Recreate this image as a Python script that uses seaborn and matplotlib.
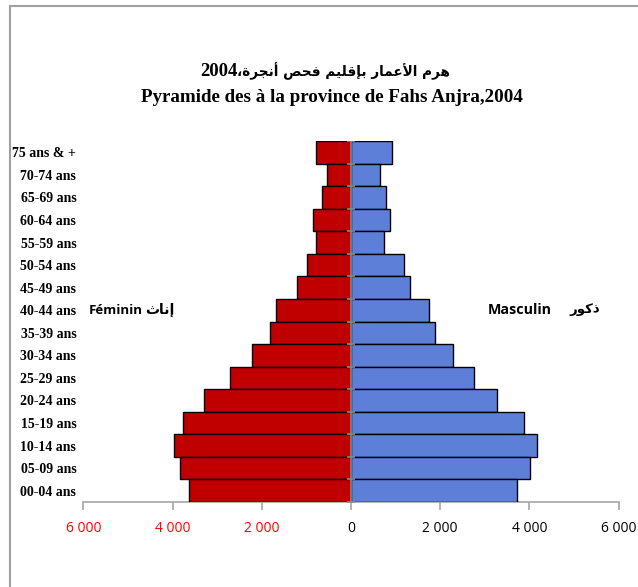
import matplotlib
matplotlib.use("Agg")
import matplotlib.pyplot as plt
import seaborn as sns
import pandas as pd
from matplotlib.lines import Line2D

# ---------------- data ----------------
age_groups = ["75 ans & +", "70-74 ans", "65-69 ans", "60-64 ans", "55-59 ans",
              "50-54 ans", "45-49 ans", "40-44 ans", "35-39 ans", "30-34 ans",
              "25-29 ans", "20-24 ans", "15-19 ans", "10-14 ans", "05-09 ans",
              "00-04 ans"]
female = [783, 535, 655, 850, 783, 978, 1203, 1677, 1806, 2219, 2709, 3302,
          3770, 3966, 3837, 3627]
male = [921, 641, 777, 867, 732, 1192, 1327, 1750, 1878, 2293, 2768, 3265,
        3884, 4170, 4005, 3726]
x_ticks = [-6000, -4000, -2000, 0, 2000, 4000, 6000]
x_tick_labels = ["6 000", "4 000", "2 000", "0", "2 000", "4 000", "6 000"]

# ---------------- minimal Arabic shaping ----------------
FORMS = {  # iso, final, initial, medial
    "ه": (0xFEE9, 0xFEEA, 0xFEEB, 0xFEEC), "م": (0xFEE1, 0xFEE2, 0xFEE3, 0xFEE4),
    "ل": (0xFEDD, 0xFEDE, 0xFEDF, 0xFEE0), "ع": (0xFEC9, 0xFECA, 0xFECB, 0xFECC),
    "ب": (0xFE8F, 0xFE90, 0xFE91, 0xFE92), "ق": (0xFED5, 0xFED6, 0xFED7, 0xFED8),
    "ي": (0xFEF1, 0xFEF2, 0xFEF3, 0xFEF4), "ف": (0xFED1, 0xFED2, 0xFED3, 0xFED4),
    "ح": (0xFEA1, 0xFEA2, 0xFEA3, 0xFEA4), "ص": (0xFEB9, 0xFEBA, 0xFEBB, 0xFEBC),
    "ن": (0xFEE5, 0xFEE6, 0xFEE7, 0xFEE8), "ج": (0xFE9D, 0xFE9E, 0xFE9F, 0xFEA0),
    "ث": (0xFE99, 0xFE9A, 0xFE9B, 0xFE9C), "ك": (0xFED9, 0xFEDA, 0xFEDB, 0xFEDC),
    "ر": (0xFEAD, 0xFEAE), "ا": (0xFE8D, 0xFE8E), "أ": (0xFE83, 0xFE84),
    "إ": (0xFE87, 0xFE88), "ة": (0xFE93, 0xFE94), "ذ": (0xFEAB, 0xFEAC),
    "و": (0xFEED, 0xFEEE),
}
LAM_ALEF = {"ا": (0xFEFB, 0xFEFC), "أ": (0xFEF7, 0xFEF8), "إ": (0xFEF9, 0xFEFA)}


def dual(c):
    return c in FORMS and len(FORMS[c]) == 4


def shape(text):
    chars = list(text)
    units = []
    i = 0
    while i < len(chars):
        c = chars[i]
        if c == "ل" and i + 1 < len(chars) and chars[i + 1] in LAM_ALEF:
            units.append(("LA", chars[i + 1]))
            i += 2
        else:
            units.append(("C", c))
            i += 1
    out = []
    for k, (kind, c) in enumerate(units):
        prev = units[k - 1] if k > 0 else None
        nxt = units[k + 1] if k + 1 < len(units) else None
        prev_joins = prev is not None and prev[0] == "C" and dual(prev[1])
        if kind == "LA":
            out.append(chr(LAM_ALEF[c][1 if prev_joins else 0]))
            continue
        if c not in FORMS:
            out.append(c)
            continue
        f = FORMS[c]
        next_joins = dual(c) and nxt is not None and (
            nxt[0] == "LA" or nxt[1] in FORMS)
        if prev_joins and next_joins:
            out.append(chr(f[3]))
        elif prev_joins:
            out.append(chr(f[1]))
        elif next_joins:
            out.append(chr(f[2]))
        else:
            out.append(chr(f[0]))
    return "".join(out)[::-1]  # visual order


title_year = "2004"
title_ar = shape("هرم الأعمار بإقليم فحص أنجرة،")
title_fr = "Pyramide des à la province de Fahs Anjra,2004"
label_f_fr = "Féminin"
label_f_ar = shape("إناث")
label_m_fr = "Masculin"
label_m_ar = shape("ذكور")

# ---------------- figure ----------------
sns.set_theme(style="white")
plt.rcParams["font.family"] = ["DejaVu Sans"]
plt.rcParams["text.color"] = "black"
plt.rcParams["xtick.color"] = "black"
plt.rcParams["ytick.color"] = "black"

W, H = 638, 587
fig = plt.figure(figsize=(W / 100, H / 100), dpi=100)
ax = fig.add_axes([83.3 / W, 1 - 502 / H, (618.7 - 83.3) / W, (502 - 141) / H])

df = pd.DataFrame({"age": age_groups,
                   "female": [-v for v in female],
                   "male": male})

sns.barplot(data=df, x="female", y="age", order=age_groups, color="#C00000",
            saturation=1, width=1.0, edgecolor="black", linewidth=1.0, ax=ax)
sns.barplot(data=df, x="male", y="age", order=age_groups, color="#5E7FD8",
            saturation=1, width=1.0, edgecolor="black", linewidth=1.0, ax=ax)

ax.set_xlim(-6000, 6000)
ax.set_ylim(len(age_groups) - 0.5, -0.5)
ax.set_xlabel("")
ax.set_ylabel("")

for s in ["top", "right", "left"]:
    ax.spines[s].set_visible(False)
ax.spines["bottom"].set_color("#A6A6A6")
ax.spines["bottom"].set_linewidth(1.2)
ax.spines["bottom"].set_zorder(0.5)

# zero axis with small boundary ticks
ax.axvline(0, color="#8C8C8C", lw=1.2, zorder=3)
ax.scatter([0] * (len(age_groups) + 1),
           [k - 0.5 for k in range(len(age_groups) + 1)],
           marker="_", s=30, color="#8C8C8C", linewidths=1.2, zorder=3)

# x ticks
ax.set_xticks(x_ticks)
ax.set_xticklabels(x_tick_labels, family=["Open Sans", "DejaVu Sans"],
                   fontsize=10)
ax.tick_params(axis="x", bottom=True, direction="out", length=6, width=1.2,
               color="#A6A6A6", pad=8)
for t, v in zip(ax.get_xticklabels(), x_ticks):
    t.set_color("red" if v < 0 else "black")

# y ticks
ax.tick_params(axis="y", left=False, length=0, pad=5)
ax.set_yticks(range(len(age_groups)))
ax.set_yticklabels(age_groups, family=["Liberation Serif", "DejaVu Serif"],
                   fontweight="bold", fontsize=10)

# titles
fig.canvas.draw()
renderer = fig.canvas.get_renderer()
t_year = fig.text(0, 1 - 72 / H, title_year, ha="left", va="center",
                  family=["Liberation Serif"], fontweight="bold",
                  fontsize=13.5)
t_ar = fig.text(0, 1 - 71 / H, title_ar, ha="left", va="center",
                family=["DejaVu Sans"], fontweight="bold", fontsize=9.8)
w_year = t_year.get_window_extent(renderer).width
w_ar = t_ar.get_window_extent(renderer).width
x0 = 325 - (w_year + w_ar) / 2
t_year.set_x(x0 / W)
t_ar.set_x((x0 + w_year) / W)

fig.text(332 / W, 1 - 97 / H, title_fr, ha="center", va="center",
         family=["Liberation Serif"], fontweight="bold", fontsize=13.7)

# series labels
fig.text(89 / W, 1 - 310 / H, label_f_fr, ha="left", va="center",
         family=["Open Sans"], fontweight="bold", fontsize=9.5)
fig.text(175 / W, 1 - 310 / H, label_f_ar, ha="right", va="center",
         family=["DejaVu Sans"], fontweight="bold", fontsize=10)
fig.text(488 / W, 1 - 310 / H, label_m_fr, ha="left", va="center",
         family=["Open Sans"], fontweight="bold", fontsize=10.3)
fig.text(600 / W, 1 - 310 / H, label_m_ar, ha="right", va="center",
         family=["DejaVu Sans"], fontweight="bold", fontsize=9.5)

# chart-area frame (top and left edges visible)
fig.add_artist(Line2D([10 / W, 1], [1 - 6 / H, 1 - 6 / H],
                      transform=fig.transFigure, color="#A0A0A0", lw=1.5))
fig.add_artist(Line2D([10 / W, 10 / W], [0, 1 - 6 / H],
                      transform=fig.transFigure, color="#A0A0A0", lw=1.5))

fig.savefig("out.png", dpi=100)
